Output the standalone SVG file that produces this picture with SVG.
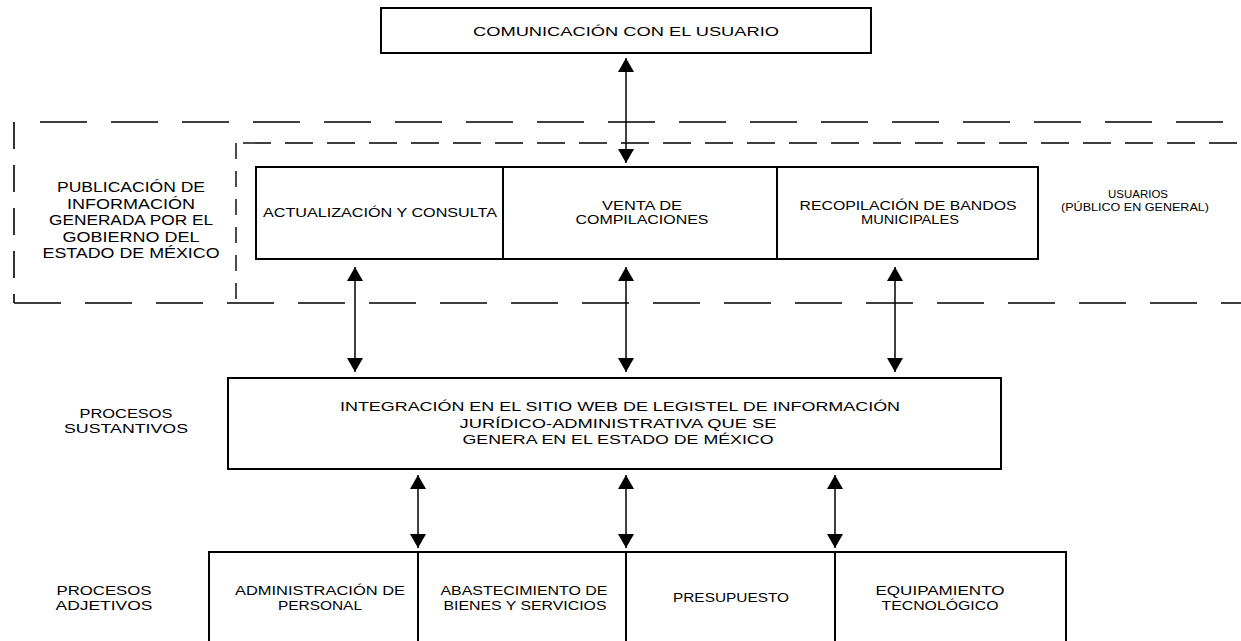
<svg xmlns="http://www.w3.org/2000/svg" width="1241" height="641" viewBox="0 0 1241 641">
<style>
.box{fill:#fff;stroke:#000;stroke-width:2}
.t{font-family:"Liberation Sans","Open Sans",sans-serif;fill:#000;text-anchor:middle}
.s13{font-size:13.5px}
.s14{font-size:14px}
.sl{font-size:13px}
.s12{font-size:12px}
.sb{font-size:12.5px}
.s9{font-size:10px}
.dashO{fill:none;stroke:#000;stroke-width:1.6;stroke-dasharray:47 24}
.dashOv{fill:none;stroke:#000;stroke-width:1.6;stroke-dasharray:27 16}
.dashI{fill:none;stroke:#000;stroke-width:1.4;stroke-dasharray:28 14}
.dashIv{fill:none;stroke:#000;stroke-width:1.4;stroke-dasharray:16 12}
.arr{fill:none;stroke:#000;stroke-width:1.5;marker-start:url(#ah);marker-end:url(#ah)}
</style>
<defs>
<marker id="ah" markerUnits="userSpaceOnUse" markerWidth="15" markerHeight="16" refX="14" refY="8" orient="auto-start-reverse" viewBox="0 0 15 16">
<path d="M0,0 L14,8 L0,16 z" fill="#000"/>
</marker>
</defs>
<rect width="1241" height="641" fill="#fff"/>

<g id="frames">
<line class="dashO" x1="40" y1="122" x2="1241" y2="122"/>
<line class="dashOv" x1="14" y1="122" x2="14" y2="303"/>
<line class="dashO" x1="14" y1="303" x2="1241" y2="303"/>
<line class="dashI" x1="243" y1="143" x2="1241" y2="143"/>
<line class="dashIv" x1="236" y1="143" x2="236" y2="303"/>
</g>

<g id="connectors">
<line class="arr" x1="626" y1="58" x2="626" y2="163"/>
<line class="arr" x1="355" y1="267" x2="355" y2="372"/>
<line class="arr" x1="626" y1="267" x2="626" y2="372"/>
<line class="arr" x1="895" y1="267" x2="895" y2="372"/>
<line class="arr" x1="418" y1="475" x2="418" y2="548"/>
<line class="arr" x1="626" y1="475" x2="626" y2="548"/>
<line class="arr" x1="835" y1="475" x2="835" y2="548"/>
</g>

<g id="comunicacion">
<rect class="box" x="381" y="8" width="490" height="45"/>
<text class="t s13" x="626" y="36" textLength="306" lengthAdjust="spacingAndGlyphs">COMUNICACIÓN CON EL USUARIO</text>
</g>

<g id="publicacion-label">
<text class="t s14" x="131" y="192" textLength="148" lengthAdjust="spacingAndGlyphs">PUBLICACIÓN DE</text>
<text class="t s14" x="131" y="208.5" textLength="128" lengthAdjust="spacingAndGlyphs">INFORMACIÓN</text>
<text class="t s14" x="131" y="225" textLength="164" lengthAdjust="spacingAndGlyphs">GENERADA POR EL</text>
<text class="t s14" x="131" y="241.5" textLength="137" lengthAdjust="spacingAndGlyphs">GOBIERNO DEL</text>
<text class="t s14" x="131" y="258" textLength="177" lengthAdjust="spacingAndGlyphs">ESTADO DE MÉXICO</text>
</g>

<g id="actualizacion">
<rect class="box" x="256" y="167" width="247" height="92"/>
<text class="t sl" x="380" y="217" textLength="234" lengthAdjust="spacingAndGlyphs">ACTUALIZACIÓN Y CONSULTA</text>
</g>

<g id="venta">
<rect class="box" x="503" y="167" width="274" height="92"/>
<text class="t s12" x="642" y="210" textLength="80" lengthAdjust="spacingAndGlyphs">VENTA DE</text>
<text class="t s12" x="642" y="224" textLength="133" lengthAdjust="spacingAndGlyphs">COMPILACIONES</text>
</g>

<g id="recopilacion">
<rect class="box" x="777" y="167" width="261" height="92"/>
<text class="t s12" x="908" y="210" textLength="217" lengthAdjust="spacingAndGlyphs">RECOPILACIÓN DE BANDOS</text>
<text class="t s12" x="910" y="224" textLength="98" lengthAdjust="spacingAndGlyphs">MUNICIPALES</text>
</g>

<g id="usuarios">
<text class="t s9" x="1138" y="198" textLength="60" lengthAdjust="spacingAndGlyphs">USUARIOS</text>
<text class="t s9" x="1135" y="211" textLength="148" lengthAdjust="spacingAndGlyphs">(PÚBLICO EN GENERAL)</text>
</g>

<g id="sustantivos-label">
<text class="t sl" x="126" y="418" textLength="93" lengthAdjust="spacingAndGlyphs">PROCESOS</text>
<text class="t sl" x="126" y="433" textLength="124" lengthAdjust="spacingAndGlyphs">SUSTANTIVOS</text>
</g>

<g id="integracion">
<rect class="box" x="228" y="378" width="773" height="91"/>
<text class="t s13" x="620" y="411" textLength="560" lengthAdjust="spacingAndGlyphs">INTEGRACIÓN EN EL SITIO WEB DE LEGISTEL DE INFORMACIÓN</text>
<text class="t s13" x="618" y="427.5" textLength="317" lengthAdjust="spacingAndGlyphs">JURÍDICO-ADMINISTRATIVA QUE SE</text>
<text class="t s13" x="618" y="444" textLength="311" lengthAdjust="spacingAndGlyphs">GENERA EN EL ESTADO DE MÉXICO</text>
</g>

<g id="adjetivos-label">
<text class="t sl" x="104" y="595" textLength="95" lengthAdjust="spacingAndGlyphs">PROCESOS</text>
<text class="t sl" x="104" y="610" textLength="97" lengthAdjust="spacingAndGlyphs">ADJETIVOS</text>
</g>

<g id="administracion">
<rect class="box" x="209" y="552" width="209" height="100"/>
<text class="t sb" x="320" y="595" textLength="170" lengthAdjust="spacingAndGlyphs">ADMINISTRACIÓN DE</text>
<text class="t sb" x="320" y="610" textLength="84" lengthAdjust="spacingAndGlyphs">PERSONAL</text>
</g>

<g id="abastecimiento">
<rect class="box" x="418" y="552" width="208" height="100"/>
<text class="t sb" x="524" y="595" textLength="167" lengthAdjust="spacingAndGlyphs">ABASTECIMIENTO DE</text>
<text class="t sb" x="525" y="610" textLength="163" lengthAdjust="spacingAndGlyphs">BIENES Y SERVICIOS</text>
</g>

<g id="presupuesto">
<rect class="box" x="626" y="552" width="209" height="100"/>
<text class="t sb" x="731" y="602" textLength="116" lengthAdjust="spacingAndGlyphs">PRESUPUESTO</text>
</g>

<g id="equipamiento">
<rect class="box" x="835" y="552" width="231" height="100"/>
<text class="t sb" x="940" y="595" textLength="129" lengthAdjust="spacingAndGlyphs">EQUIPAMIENTO</text>
<text class="t sb" x="940" y="609.5" textLength="117" lengthAdjust="spacingAndGlyphs">TECNOLÓGICO</text>
</g>
</svg>
